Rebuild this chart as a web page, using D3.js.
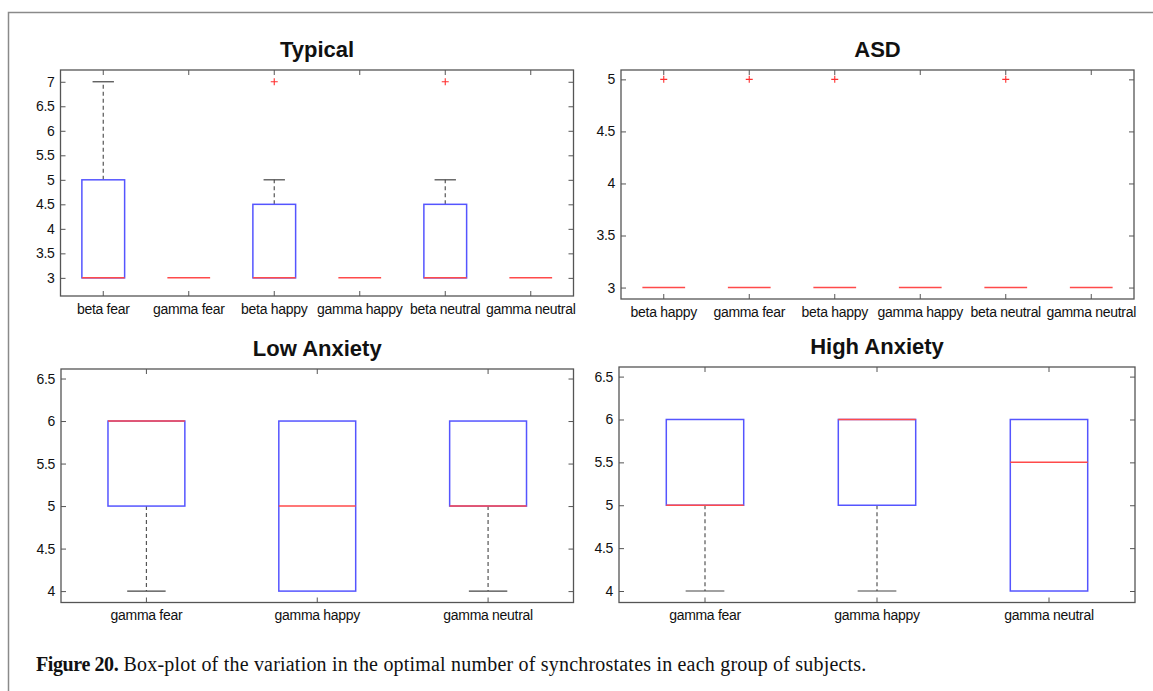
<!DOCTYPE html>
<html>
<head>
<meta charset="utf-8">
<script src="https://cdnjs.cloudflare.com/ajax/libs/d3/7.8.5/d3.min.js"></script>
<style>
    body { margin: 0; background: #fff; }
    svg { display: block; }
    .tick text { font-family: "Liberation Sans", Arial, sans-serif; font-size: 14px; letter-spacing: -0.3px; fill: #111; }
    .tick line { stroke: #555; }
    .title { font-family: "Liberation Sans", Arial, sans-serif; font-size: 22px; font-weight: bold; fill: #111; }
</style>
</head>
<body>
<svg id="chart" width="1153" height="691"></svg>
<script>
// Box stats per category: [lower whisker, q1, median, q3, upper whisker]
var typicalCats = ["beta fear", "gamma fear", "beta happy", "gamma happy", "beta neutral", "gamma neutral"];
var typicalBox = [[3, 3, 3, 5, 7], [3, 3, 3, 3, 3], [3, 3, 3, 4.5, 5], [3, 3, 3, 3, 3], [3, 3, 3, 4.5, 5], [3, 3, 3, 3, 3]];
var typicalOutliers = [[], [], [7], [], [7], []];
var typicalTicks = [3, 3.5, 4, 4.5, 5, 5.5, 6, 6.5, 7];
var typicalLimits = [2.63, 7.24];

var asdCats = ["beta happy", "gamma fear", "beta happy", "gamma happy", "beta neutral", "gamma neutral"];
var asdBox = [[3, 3, 3, 3, 3], [3, 3, 3, 3, 3], [3, 3, 3, 3, 3], [3, 3, 3, 3, 3], [3, 3, 3, 3, 3], [3, 3, 3, 3, 3]];
var asdOutliers = [[5], [5], [5], [], [5], []];
var asdTicks = [3, 3.5, 4, 4.5, 5];
var asdLimits = [2.89, 5.09];

var lowCats = ["gamma fear", "gamma happy", "gamma neutral"];
var lowBox = [[4, 5, 6, 6, 6], [4, 4, 5, 6, 6], [4, 5, 5, 6, 6]];
var lowOutliers = [[], [], []];
var anxTicks = [4, 4.5, 5, 5.5, 6, 6.5];
var anxLimits = [3.866, 6.612];

var highCats = ["gamma fear", "gamma happy", "gamma neutral"];
var highBox = [[4, 5, 5, 6, 6], [4, 5, 6, 6, 6], [4, 4, 5.5, 6, 6]];
var highOutliers = [[], [], []];

var caption = "Box-plot of the variation in the optimal number of synchrostates in each group of subjects.";

var svg = d3.select("#chart");

svg.append("rect").attr("width", 1153).attr("height", 691).attr("fill", "#fff");

// Outer figure frame (only top and left visible)
svg.append("path")
    .attr("d", "M8.5,691V12.5H1153")
    .attr("fill", "none")
    .attr("stroke", "#8a8a8a")
    .attr("stroke-width", 1.5);

function boxPanel(opts) {
    var left = opts.left, right = opts.right, top = opts.top, bottom = opts.bottom;
    var g = svg.append("g");

    var x = d3.scaleBand()
        .domain(d3.range(opts.cats.length))
        .range([left, right]);

    var y = d3.scaleLinear()
        .domain(opts.limits)
        .range([bottom, top]);

    var bw = x.bandwidth() * opts.widthRatio;

    g.append("text")
        .attr("class", "title")
        .attr("x", (left + right) / 2)
        .attr("y", opts.titleY)
        .attr("text-anchor", "middle")
        .text(opts.title);

    // Attach X Axis
    g.append("g")
        .attr("transform", "translate(0," + bottom + ")")
        .call(d3.axisBottom(x).tickSize(-5).tickPadding(8).tickFormat(function(i) { return opts.cats[i]; }))
        .call(function(a) { a.select(".domain").remove(); });

    g.append("g")
        .attr("transform", "translate(0," + top + ")")
        .call(d3.axisTop(x).tickSize(-5).tickFormat(""))
        .call(function(a) { a.select(".domain").remove(); });

    // Attach Y Axis
    g.append("g")
        .attr("transform", "translate(" + left + ",0)")
        .call(d3.axisLeft(y).tickValues(opts.ticks).tickSize(-5).tickPadding(6).tickFormat(d3.format("")))
        .call(function(a) { a.select(".domain").remove(); });

    g.append("g")
        .attr("transform", "translate(" + right + ",0)")
        .call(d3.axisRight(y).tickValues(opts.ticks).tickSize(-5).tickFormat(""))
        .call(function(a) { a.select(".domain").remove(); });

    g.selectAll(".tick text").attr("fill", "#111").attr("stroke", "none");

    g.append("rect")
        .attr("x", left)
        .attr("y", top)
        .attr("width", right - left)
        .attr("height", bottom - top)
        .attr("fill", "none")
        .attr("stroke", "#555")
        .attr("stroke-width", 1.3);

    var items = g.selectAll(".item")
        .data(opts.box)
        .enter().append("g")
        .attr("class", "item");

    items.each(function(d, i) {
        var sel = d3.select(this);
        var cx = x(i) + x.bandwidth() / 2;

        // whiskers
        if (d[4] > d[3]) {
            sel.append("line")
                .attr("x1", cx).attr("x2", cx)
                .attr("y1", y(d[3])).attr("y2", y(d[4]))
                .attr("stroke", "#555").attr("stroke-dasharray", "4,3").attr("stroke-width", 1.2);
            sel.append("line")
                .attr("x1", cx - bw / 4).attr("x2", cx + bw / 4)
                .attr("y1", y(d[4])).attr("y2", y(d[4]))
                .attr("stroke", "#444").attr("stroke-width", 1.2);
        }
        if (d[0] < d[1]) {
            sel.append("line")
                .attr("x1", cx).attr("x2", cx)
                .attr("y1", y(d[1])).attr("y2", y(d[0]))
                .attr("stroke", "#555").attr("stroke-dasharray", "4,3").attr("stroke-width", 1.2);
            sel.append("line")
                .attr("x1", cx - bw / 4).attr("x2", cx + bw / 4)
                .attr("y1", y(d[0])).attr("y2", y(d[0]))
                .attr("stroke", "#444").attr("stroke-width", 1.2);
        }

        // box
        if (d[3] > d[1]) {
            sel.append("rect")
                .attr("x", cx - bw / 2)
                .attr("y", y(d[3]))
                .attr("width", bw)
                .attr("height", y(d[1]) - y(d[3]))
                .attr("fill", "none")
                .attr("stroke", "#5555ff")
                .attr("stroke-width", 1.5);
        }

        // median
        sel.append("line")
            .attr("x1", cx - bw / 2).attr("x2", cx + bw / 2)
            .attr("y1", y(d[2])).attr("y2", y(d[2]))
            .attr("stroke", "#ff4a4a")
            .attr("stroke-width", 1.5);

        // outliers
        opts.outliers[i].forEach(function(v) {
            sel.append("path")
                .attr("d", "M" + (cx - 3.5) + "," + y(v) + "h7M" + cx + "," + (y(v) - 3.5) + "v7")
                .attr("stroke", "#ff3030")
                .attr("stroke-width", 1.1);
        });
    });
}

boxPanel({ title: "Typical", cats: typicalCats, box: typicalBox, outliers: typicalOutliers, ticks: typicalTicks,
    limits: typicalLimits, left: 60.5, right: 573.5, top: 70, bottom: 296, titleY: 57, widthRatio: 0.5 });

boxPanel({ title: "ASD", cats: asdCats, box: asdBox, outliers: asdOutliers, ticks: asdTicks,
    limits: asdLimits, left: 621, right: 1134, top: 70, bottom: 299, titleY: 57, widthRatio: 0.5 });

boxPanel({ title: "Low Anxiety", cats: lowCats, box: lowBox, outliers: lowOutliers, ticks: anxTicks,
    limits: anxLimits, left: 61, right: 573.5, top: 369, bottom: 602.5, titleY: 356, widthRatio: 0.45 });

boxPanel({ title: "High Anxiety", cats: highCats, box: highBox, outliers: highOutliers, ticks: anxTicks,
    limits: anxLimits, left: 619, right: 1135, top: 367, bottom: 602.5, titleY: 354, widthRatio: 0.45 });

// Caption
var cap = svg.append("text")
    .attr("x", 36)
    .attr("y", 671)
    .style("font-family", "'Liberation Serif', 'Times New Roman', serif")
    .style("font-size", "20px")
    .style("letter-spacing", "0.2px")
    .attr("fill", "#111");

cap.append("tspan").style("font-weight", "bold").style("letter-spacing", "-0.4px").text("Figure 20.");
cap.append("tspan").text(" " + caption);
</script>
</body>
</html>
